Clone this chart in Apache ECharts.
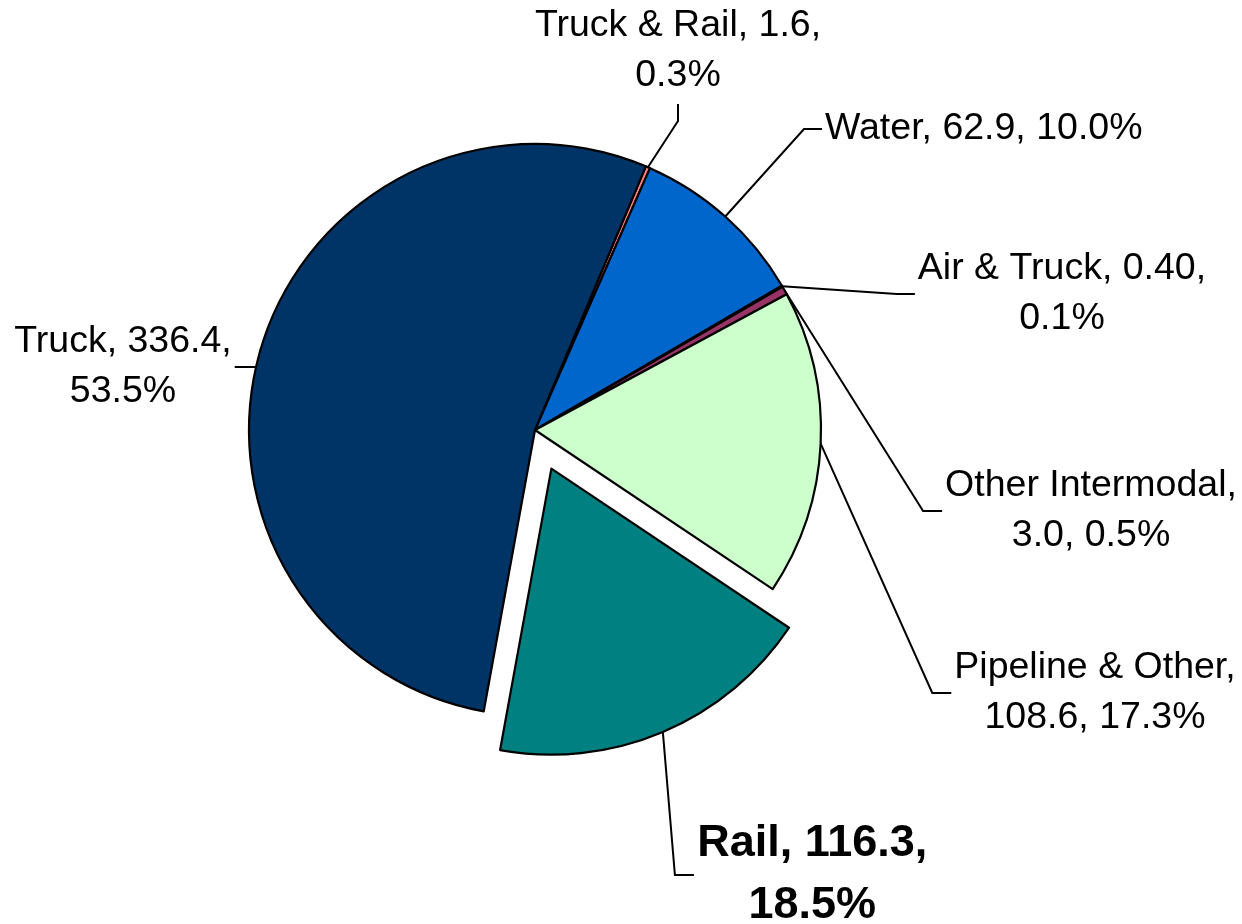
<!DOCTYPE html>
<html><head><meta charset="utf-8">
<script src="https://cdn.jsdelivr.net/npm/echarts@6/dist/echarts.min.js"></script>
<style>html,body{margin:0;padding:0;background:#fff}#c{width:1242px;height:924px}</style>
</head><body><div id="c"></div>
<script>
// ---- data ----
const categories = ['Truck & Rail', 'Water', 'Air & Truck', 'Other Intermodal', 'Pipeline & Other', 'Rail', 'Truck'];
const values = [1.6, 62.9, 0.40, 3.0, 108.6, 116.3, 336.4];
const valueLabels = ['1.6', '62.9', '0.40', '3.0', '108.6', '116.3', '336.4'];
const percentLabels = ['0.3%', '10.0%', '0.1%', '0.5%', '17.3%', '18.5%', '53.5%'];
const explodedCategory = 'Rail';
// how many comma-separated parts sit on the first label line
const firstLineParts = [2, 3, 2, 1, 1, 2, 2];

// ---- styles / layout ----
const PIE_CENTER = [535, 430];
const PIE_RADIUS = 286;
const EXPLODE = 42;
const colors = ['#FF7C80', '#0066CC', '#9999FF', '#993366', '#CCFFCC', '#008080', '#003366'];
const labelPlacement = [
  { x: 678,  y: 51,  align: 'center', enter: 'bottom', arm: 17 },
  { x: 825,  y: 129, align: 'left',   enter: 'left',   arm: 18 },
  { x: 1062, y: 294, align: 'center', enter: 'left',   arm: 18 },
  { x: 1091, y: 511, align: 'center', enter: 'left',   arm: 19 },
  { x: 1095, y: 693, align: 'center', enter: 'left',   arm: 19 },
  { x: 812,  y: 875, align: 'center', enter: 'left',   arm: 19 },
  { x: 123,  y: 367, align: 'center', enter: 'right',  arm: 24 }
];

const seriesData = categories.map((name, i) => {
  const isExploded = name === explodedCategory;
  const item = {
    name: name,
    value: values[i],
    selected: isExploded,
    itemStyle: { color: colors[i] }
  };
  if (isExploded) {
    item.label = { fontWeight: 'bold', fontSize: 45, lineHeight: 62 };
    // native outside-label position (it follows the slice when exploded)
    item.labelLine = { length: 155, length2: 84 };
  }
  return item;
});

function labelText(i) {
  const parts = [categories[i], valueLabels[i], percentLabels[i]];
  const n = firstLineParts[i];
  const l1 = parts.slice(0, n).join(', ');
  const l2 = parts.slice(n).join(', ');
  return l2 ? l1 + ',\n' + l2 : l1;
}

const chart = echarts.init(document.getElementById('c'), null, { renderer: 'canvas' });
chart.setOption({
  backgroundColor: '#ffffff',
  animation: false,
  series: [{
    type: 'pie',
    center: PIE_CENTER,
    radius: PIE_RADIUS,
    startAngle: 67.2,
    clockwise: true,
    selectedMode: 'single',
    selectedOffset: EXPLODE,
    avoidLabelOverlap: false,
    emphasis: { disabled: true },
    itemStyle: { borderColor: '#000000', borderWidth: 2.2 },
    label: {
      show: true,
      position: 'outside',
      formatter: p => labelText(p.dataIndex),
      fontFamily: '"Liberation Sans", Arial, sans-serif',
      fontSize: 37.5,
      lineHeight: 50,
      color: '#000000'
    },
    labelLine: {
      show: true,
      length: 20,
      length2: 20,
      lineStyle: { color: '#000000', width: 2 }
    },
    labelLayout: function (p) {
      const i = p.dataIndex;
      const pl = labelPlacement[i];
      const w = p.labelRect.width, h = p.labelRect.height;
      const left = pl.align === 'center' ? pl.x - w / 2 : pl.x;
      const gap = 3;
      let end, elbow;
      if (pl.enter === 'left') {
        end = [left - gap, pl.y]; elbow = [end[0] - pl.arm, pl.y];
      } else if (pl.enter === 'right') {
        end = [left + w + gap, pl.y]; elbow = [end[0] + pl.arm, pl.y];
      } else {
        end = [pl.x, pl.y + h / 2 + gap]; elbow = [pl.x, end[1] + pl.arm];
      }
      const start = (p.labelLinePoints && p.labelLinePoints[0]) ? p.labelLinePoints[0] : elbow;
      if (categories[i] === explodedCategory) {
        // the exploded slice's label and guide line are translated with the slice
        const vx = start[0] - PIE_CENTER[0], vy = start[1] - PIE_CENTER[1];
        const d = Math.sqrt(vx * vx + vy * vy) || 1;
        const ox = vx / d * EXPLODE, oy = vy / d * EXPLODE;
        return {
          align: pl.align, verticalAlign: 'middle',
          labelLinePoints: [start, [elbow[0] - ox, elbow[1] - oy], [end[0] - ox, end[1] - oy]]
        };
      }
      return {
        x: pl.x, y: pl.y, align: pl.align, verticalAlign: 'middle',
        labelLinePoints: [start, elbow, end]
      };
    },
    data: seriesData
  }]
});
</script>
</body></html>
